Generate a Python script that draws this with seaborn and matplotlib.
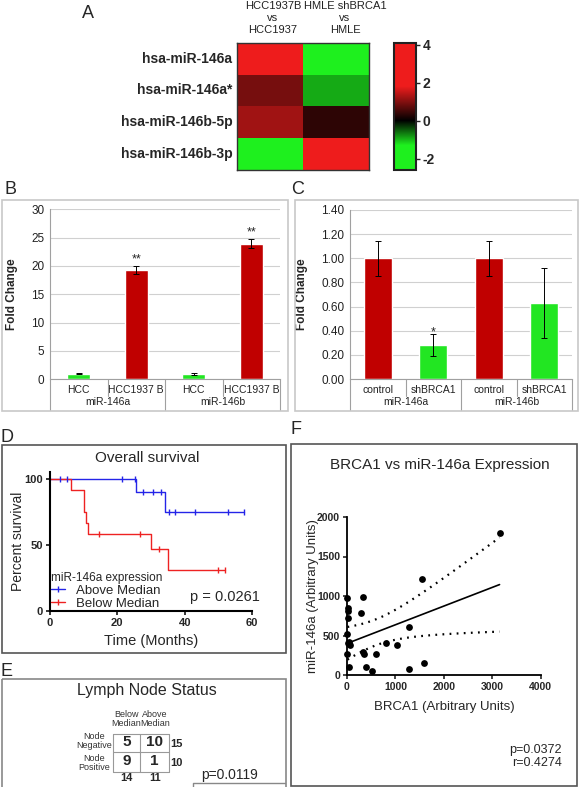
import numpy as np
import pandas as pd
import seaborn as sns
import matplotlib
matplotlib.use('Agg')
import matplotlib.pyplot as plt
from matplotlib.colors import LinearSegmentedColormap
from matplotlib.patches import Rectangle
from matplotlib.lines import Line2D

# ---- A: тепловая карта ----
hm_rows = ['hsa-miR-146a', 'hsa-miR-146a*', 'hsa-miR-146b-5p', 'hsa-miR-146b-3p']
hm_cols = ['HCC1937B\nvs\nHCC1937', 'HMLE shBRCA1\nvs\nHMLE']
hm_hcc = [3.6, 0.9, 1.2, -2.3]
hm_hmle = [-2.3, -0.9, 0.35, 3.6]
hm_ticks = [4, 2, 0, -2]

# ---- B ----
b_cells = ['HCC', 'HCC1937 B', 'HCC', 'HCC1937 B']
b_groups = ['miR-146a', 'miR-146b']
b_values = [1.0, 19.3, 0.9, 23.9]
b_errors = [0.15, 0.7, 0.15, 0.8]
b_stars = ['', '**', '', '**']

# ---- C ----
c_cells = ['control', 'shBRCA1', 'control', 'shBRCA1']
c_groups = ['miR-146a', 'miR-146b']
c_values = [1.0, 0.28, 1.0, 0.63]
c_errors = [0.145, 0.09, 0.145, 0.29]
c_stars = ['', '*', '', '']

# ---- D: выживаемость ----
km_above_t = [0, 25.5, 34.2, 57.6]
km_above_s = [100, 90, 75, 75]
km_above_cens = [3, 5, 21.3, 25.2, 27.7, 30.5, 33.1, 35.4, 37.1, 43, 52.9, 57.6]
km_below_t = [0, 6.2, 10.0, 10.6, 11.2, 30.0, 35.1, 51.9]
km_below_s = [100, 91.7, 75, 66.7, 58.3, 46.7, 31.1, 31.1]
km_below_cens = [14.6, 26.7, 32.4, 50.0, 51.9]

# ---- E: лимфоузлы ----
lymph_rows = ['Node\nNegative', 'Node\nPositive']
lymph_cols = ['Below\nMedian', 'Above\nMedian']
lymph_counts = [[5, 10], [9, 1]]

# ---- F: корреляция ----
brca1 = [3150, 1545, 325, 10, 25, 30, 280, 15, 1290, 10, 45, 60,
         800, 1040, 340, 345, 600, 10, 50, 395, 510, 1290, 1580, 20]
mir146a = [1800, 1210, 985, 970, 850, 810, 790, 720, 610, 520, 420, 385,
           405, 375, 295, 270, 270, 270, 100, 100, 50, 80, 155, 400]

RED = '#C00000'
GREEN = '#22E622'

sns.set_style('white')
plt.rcParams['font.family'] = ['Liberation Sans', 'DejaVu Sans']
plt.rcParams['axes.unicode_minus'] = False

W, H = 579, 787
fig = plt.figure(figsize=(W / 100, H / 100), dpi=100)


def px_axes(x0, y0, x1, y1):
    return fig.add_axes([x0 / W, 1 - y1 / H, (x1 - x0) / W, (y1 - y0) / H])


# общий слой для рамок, букв и таблицы (поверх остальных осей)
ov = fig.add_axes([0, 0, 1, 1])
ov.set_xlim(0, W)
ov.set_ylim(H, 0)
ov.axis('off')
ov.set_zorder(10)

# ---- A ----
ax_hm = px_axes(237, 42.7, 369, 170)
cax = px_axes(394, 42.7, 416, 170)
vmin, vmax = -2.6, 4.1


def pos(v):
    return (v - vmin) / (vmax - vmin)


cmap = LinearSegmentedColormap.from_list('gbr', [
    (0, '#1EF01E'), (pos(-1.3), '#1EF01E'), (pos(0), 'black'),
    (pos(1.8), '#EE1C1C'), (1, '#EE1C1C')])
hm = pd.DataFrame({hm_cols[0]: hm_hcc, hm_cols[1]: hm_hmle}, index=hm_rows)
sns.heatmap(hm, ax=ax_hm, cbar_ax=cax, cmap=cmap, vmin=vmin, vmax=vmax,
            cbar_kws={'ticks': hm_ticks}, xticklabels=False)
for sp in ax_hm.spines.values():
    sp.set_visible(True)
    sp.set_color('#333333')
    sp.set_linewidth(1)
ax_hm.set_yticklabels(hm_rows, rotation=0, fontsize=10, fontweight='bold')
ax_hm.tick_params(axis='y', length=0, pad=3.5)
ax_hm.set_xlabel('')
ax_hm.set_ylabel('')
for col, x in zip(hm_cols, [273, 345]):
    ov.text(x, 18, col, ha='center', va='center', fontsize=8,
            linespacing=1.2, color='#222222')
cb = ax_hm.collections[0].colorbar
cb.outline.set_linewidth(1.5)
cb.outline.set_edgecolor('#222222')
cax.tick_params(length=3, width=1, labelsize=10, pad=2)
for t in cax.get_yticklabels():
    t.set_fontweight('bold')


# ---- B, C: столбчатые диаграммы в стиле Excel ----
def excel_bars(ax, cells, groups, values, errors, colors, stars, width,
               ymax, ystep, fmt, star_gap):
    keys = [f'{groups[i // 2]} {c} {i}' for i, c in enumerate(cells)]
    df = pd.DataFrame({'key': keys, 'value': values})
    sns.barplot(data=df, x='key', y='value', hue='key',
                palette=dict(zip(keys, colors)), width=width, saturation=1,
                legend=False, ax=ax, zorder=2)
    ax.errorbar(range(len(values)), values, yerr=errors, fmt='none',
                ecolor='black', elinewidth=0.7, capsize=2, capthick=0.7,
                zorder=3)
    for i, s in enumerate(stars):
        if s:
            ax.text(i, values[i] + errors[i] + star_gap, s, ha='center',
                    va='bottom', fontsize=9)
    ax.set_xlim(-0.5, 3.5)
    ax.set_ylim(0, ymax)
    ax.set_yticks(np.arange(0, ymax + ystep / 2, ystep))
    ax.set_yticklabels([fmt.format(v) for v in ax.get_yticks()])
    ax.set_axisbelow(True)
    ax.grid(axis='y', color='#D0D0D0', lw=0.8)
    ax.grid(axis='x', visible=False)
    for s in ['top', 'right']:
        ax.spines[s].set_visible(False)
    for s in ['left', 'bottom']:
        ax.spines[s].set_color('#A0A0A0')
        ax.spines[s].set_linewidth(0.8)
    ax.set_xticks(range(4))
    ax.set_xticklabels(cells)
    ax.tick_params(axis='x', length=0, pad=4, labelsize=7.5, labelcolor='#222222')
    ax.tick_params(axis='y', length=0, pad=4, labelsize=8.5, labelcolor='#222222')
    ax.set_xlabel('')
    ax.set_ylabel('Fold Change', fontsize=8.5, fontweight='bold')
    tr = ax.get_xaxis_transform()
    hpx = ax.get_window_extent().height
    for k, g in enumerate(groups):
        ax.text(2 * k + 0.5, -23 / hpx, g, transform=tr, ha='center',
                va='center', fontsize=7.5, color='#222222')
    for x in [0.5, 2.5]:
        ax.plot([x, x], [0, -17 / hpx], transform=tr, clip_on=False,
                color='#A0A0A0', lw=0.8)
    for x in [-0.5, 1.5, 3.5]:
        ax.plot([x, x], [0, -31 / hpx], transform=tr, clip_on=False,
                color='#A0A0A0', lw=0.8)


ax_b = px_axes(50, 209.3, 280, 379.3)
excel_bars(ax_b, b_cells, b_groups, b_values, b_errors,
           [GREEN, RED, GREEN, RED], b_stars, 0.4, 30, 5, '{:.0f}', 0.1)
ax_b.yaxis.set_label_coords(-0.139, 0.5)

ax_c = px_axes(350, 210, 572, 379)
excel_bars(ax_c, c_cells, c_groups, c_values, c_errors,
           [RED, GREEN, RED, GREEN], c_stars, 0.5, 1.4, 0.2, '{:.2f}', -0.03)
ax_c.yaxis.set_label_coords(-0.188, 0.5)

# ---- D: кривые Каплана-Мейера ----
ax_d = px_axes(50, 472.4, 252, 611)
BLUE = '#2424E8'
KMRED = '#EE2222'
for t, s, cens, col in [(km_above_t, km_above_s, km_above_cens, BLUE),
                        (km_below_t, km_below_s, km_below_cens, KMRED)]:
    sns.lineplot(x=t, y=s, drawstyle='steps-post', color=col, lw=1,
                 ax=ax_d, estimator=None)
    idx = np.searchsorted(t, cens, side='right') - 1
    sns.scatterplot(x=cens, y=np.array(s)[idx], marker='|', s=25,
                    color=col, linewidth=1, ax=ax_d, clip_on=False, zorder=3)
ax_d.set_xlim(0, 60)
ax_d.set_ylim(0, 105)
ax_d.set_xticks([0, 20, 40, 60])
ax_d.set_yticks([0, 50, 100])
for s in ['top', 'right']:
    ax_d.spines[s].set_visible(False)
for s in ['left', 'bottom']:
    ax_d.spines[s].set_color('black')
    ax_d.spines[s].set_linewidth(1.5)
ax_d.tick_params(direction='out', length=3, width=1.3, labelsize=8, pad=2,
                 left=True, bottom=True)
for t in ax_d.get_xticklabels() + ax_d.get_yticklabels():
    t.set_fontweight('bold')
ax_d.set_xlabel('Time (Months)', fontsize=10.5)
ax_d.set_ylabel('Percent survival', fontsize=10)
ax_d.xaxis.set_label_coords(0.5, -0.216)
ax_d.xaxis.label.set_va('center')
ax_d.yaxis.set_label_coords(-0.158, 0.5)
ax_d.yaxis.label.set_va('center')
handles = [Line2D([], [], color=BLUE, marker='|', ms=5, lw=1),
           Line2D([], [], color=KMRED, marker='|', ms=5, lw=1)]
ax_d.legend(handles, ['Above Median', 'Below Median'],
            title='miR-146a expression', loc='lower left',
            bbox_to_anchor=(0.0, 0.0), frameon=False, fontsize=9.5,
            title_fontsize=8.5, alignment='left', borderpad=0,
            borderaxespad=0.1, handlelength=1.0, handletextpad=0.9,
            labelspacing=0.05)
ov.text(190, 597, 'p = 0.0261', fontsize=10.5, va='center')
ov.text(147, 458, 'Overall survival', fontsize=11, ha='center', va='center')

# ---- E: таблица ----
ov.text(147, 691, 'Lymph Node Status', fontsize=11.5, ha='center', va='center')
xe = [112.7, 140, 169.3]
ye = [734.3, 751.7, 771.7]
for x in xe:
    ov.plot([x, x], [ye[0], ye[-1]], color='#999999', lw=0.8)
for y in ye:
    ov.plot([xe[0], xe[-1]], [y, y], color='#999999', lw=0.8)
counts = np.array(lymph_counts)
for i, ry in enumerate([741, 762.7]):
    cy = (ye[i] + ye[i + 1]) / 2
    ov.text(94, ry, lymph_rows[i], ha='center', va='center', fontsize=6.5,
            color='#333333', linespacing=1.0)
    ov.text(176.5, cy + 1, str(counts[i].sum()), ha='center', va='center',
            fontsize=8, fontweight='bold')
    for j in range(2):
        cx = (xe[j] + xe[j + 1]) / 2
        ov.text(cx, cy - 1, str(counts[i, j]), ha='center', va='center',
                fontsize=11, fontweight='bold')
for j in range(2):
    cx = (xe[j] + xe[j + 1]) / 2
    ov.text(cx, 719, lymph_cols[j], ha='center', va='center', fontsize=6.5,
            color='#333333', linespacing=1.05)
    ov.text(cx, 778.3, str(counts[:, j].sum()), ha='center', va='center',
            fontsize=8, fontweight='bold')
ov.text(201, 775, 'p=0.0119', fontsize=10, va='center')
ov.plot([193, 193, 285], [787, 783, 783], color='#888888', lw=1)

# ---- F: регрессия ----
ax_f = px_axes(347, 517, 540.7, 675)
sns.scatterplot(x=brca1, y=mir146a, color='black', s=24, linewidth=0,
                ax=ax_f, clip_on=False, zorder=3)
xv = np.array(brca1, float)
yv = np.array(mir146a, float)
n = len(xv)
slope, icpt = np.polyfit(xv, yv, 1)
resid = yv - (slope * xv + icpt)
se = np.sqrt((resid ** 2).sum() / (n - 2))
sxx = ((xv - xv.mean()) ** 2).sum()
xs = np.linspace(xv.min(), xv.max(), 100)
fit = slope * xs + icpt
half = 2.074 * se * np.sqrt(1 / n + (xs - xv.mean()) ** 2 / sxx)
sns.lineplot(x=xs, y=fit, color='black', lw=1.2, ax=ax_f)
for band in [fit + half, fit - half]:
    sns.lineplot(x=xs, y=band, color='black', lw=1.6,
                 linestyle=(0, (0.8, 2.4)), ax=ax_f)
ax_f.set_xlim(0, 4000)
ax_f.set_ylim(0, 2000)
ax_f.set_xticks([0, 1000, 2000, 3000, 4000])
ax_f.set_yticks([0, 500, 1000, 1500, 2000])
for s in ['top', 'right']:
    ax_f.spines[s].set_visible(False)
for s in ['left', 'bottom']:
    ax_f.spines[s].set_color('black')
    ax_f.spines[s].set_linewidth(1.3)
ax_f.tick_params(direction='out', length=3, width=1.2, labelsize=7.5, pad=2,
                 left=True, bottom=True)
for t in ax_f.get_xticklabels() + ax_f.get_yticklabels():
    t.set_fontweight('bold')
ax_f.set_xlabel('BRCA1 (Arbitrary Units)', fontsize=9.5)
ax_f.set_ylabel('miR-146a (Arbitrary Units)', fontsize=9.5)
ax_f.xaxis.set_label_coords(0.5, -0.2)
ax_f.xaxis.label.set_va('center')
ax_f.yaxis.set_label_coords(-0.176, 0.5)
ax_f.yaxis.label.set_va('center')
ov.text(440, 465, 'BRCA1 vs miR-146a Expression', fontsize=11, ha='center',
        va='center')
ov.text(562, 750, 'p=0.0372', fontsize=9, ha='right', va='center')
ov.text(562, 763, 'r=0.4274', fontsize=9, ha='right', va='center')

# ---- рамки и буквы ----
for (x0, y0, x1, y1), col in [((2, 200, 288, 411), '#C8C8C8'),
                              ((295, 200, 578, 411), '#C8C8C8'),
                              ((2, 445, 286, 653), '#555555'),
                              ((2, 679, 286, 790), '#888888'),
                              ((291, 444, 577, 786), '#555555')]:
    ov.add_patch(Rectangle((x0, y0), x1 - x0, y1 - y0, fill=False,
                           ec=col, lw=1.2))
for letter, x, y in [('A', 88, 14), ('B', 11, 190), ('C', 298, 190),
                     ('D', 7, 437), ('E', 6, 671), ('F', 296, 430)]:
    ov.text(x, y, letter, fontsize=13, ha='center', va='center')

fig.savefig('out.png', dpi=100)
